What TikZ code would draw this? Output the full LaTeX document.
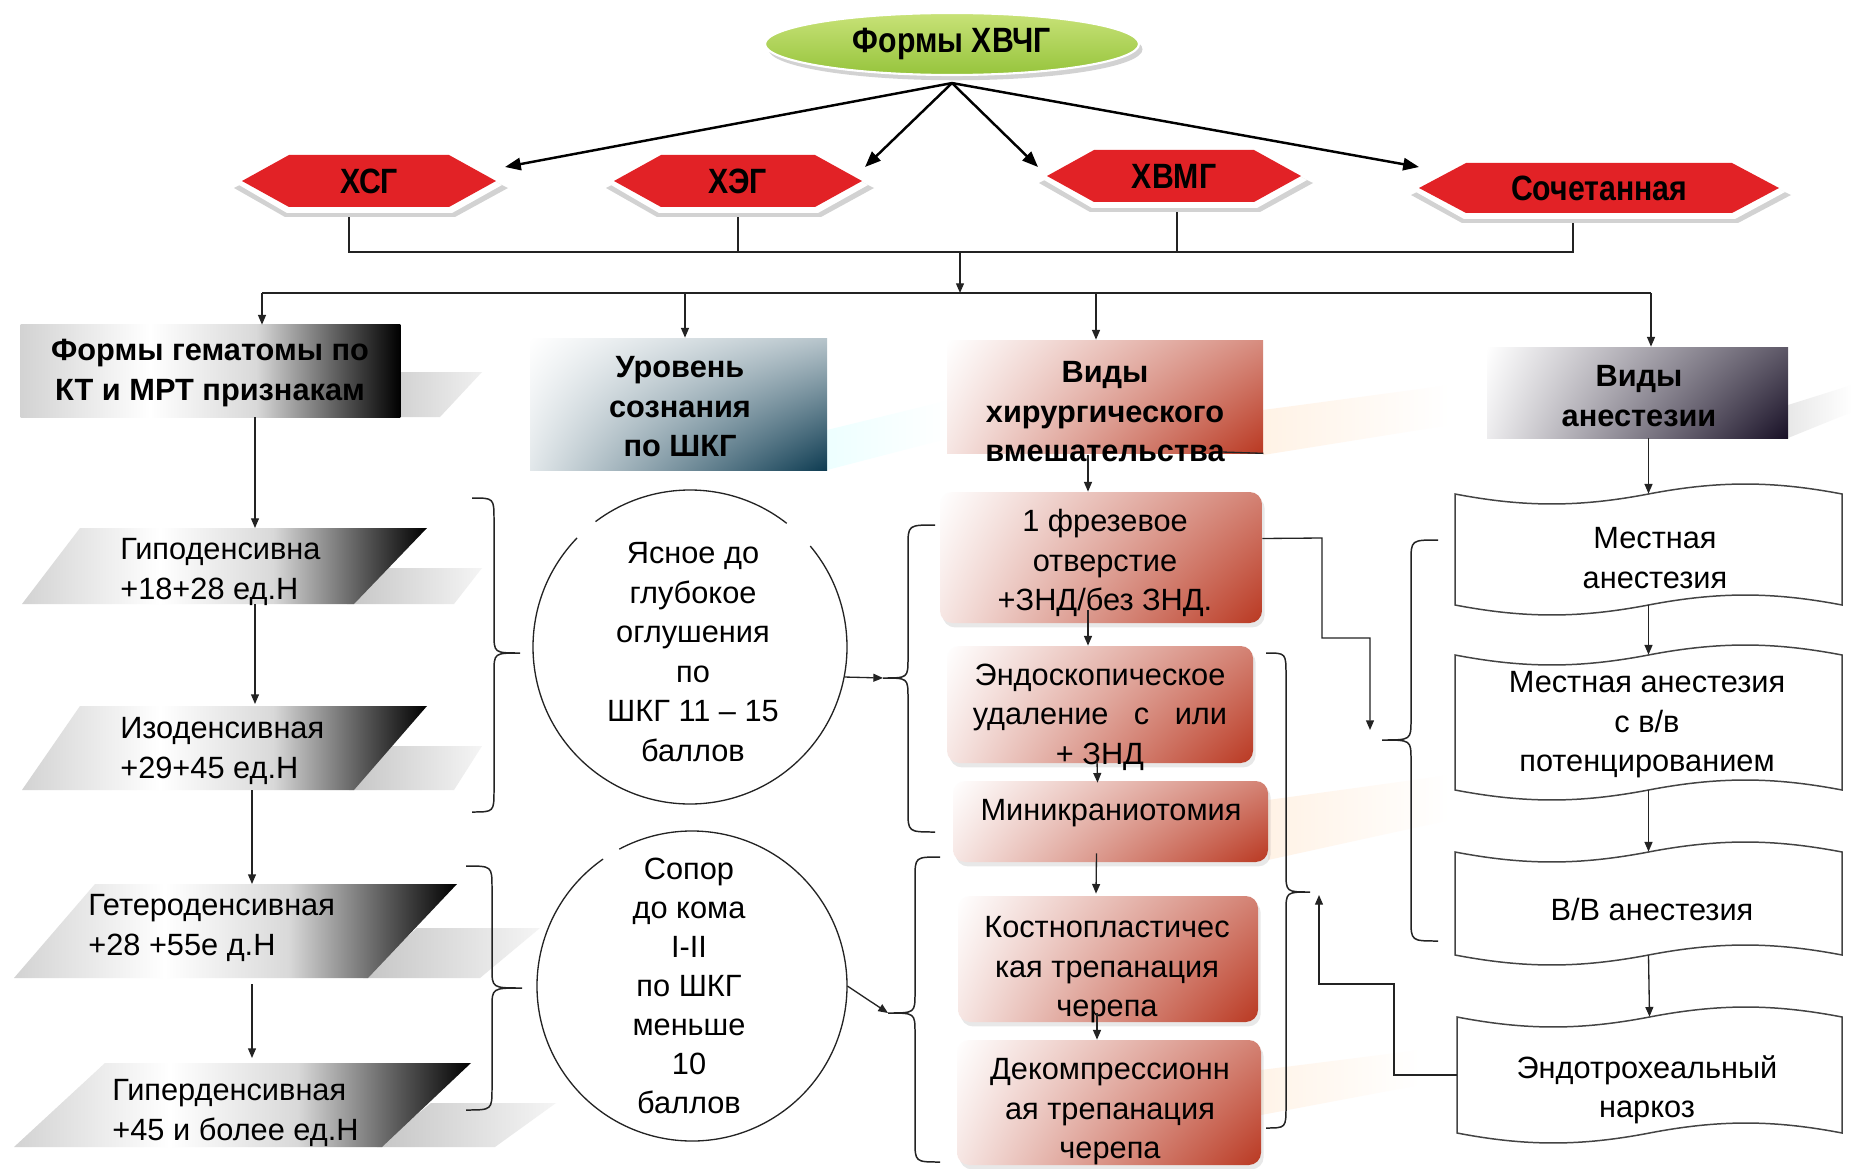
\documentclass[tikz,border=0pt]{standalone}
\usepackage{fontspec}
\setmainfont{Liberation Sans}
\newfontfamily\narrowfont[FakeStretch=0.86]{Liberation Sans}
\usetikzlibrary{shapes.geometric,arrows.meta,shadows,shadings,calc}
\definecolor{hexred}{RGB}{226,34,38}
\definecolor{leafA}{RGB}{200,226,120}
\definecolor{leafB}{RGB}{150,196,60}
\definecolor{surgred}{RGB}{182,46,22}
\definecolor{tealdk}{RGB}{14,60,82}
\definecolor{purpdk}{RGB}{24,16,38}
\definecolor{linec}{RGB}{35,35,35}
\pgfdeclarehorizontalshading{grayblack}{100bp}{color(0bp)=(gray!35); color(25bp)=(gray!35); color(42bp)=(white); color(56bp)=(gray!30); color(67bp)=(gray!70!black); color(75bp)=(black); color(100bp)=(black)}
\newcommand\hexa[5]{%
  \fill[gray!35] (#1-#3-8,#2+7) -- (#1-#3+#5-4,#2-#4+7) -- (#1+#3-#5+6,#2-#4+7) -- (#1+#3+12,#2+7) -- (#1+#3-#5+6,#2+#4+10) -- (#1-#3+#5-4,#2+#4+10) -- cycle;
  \fill[white] (#1-#3-3,#2+4) -- (#1-#3+#5-2,#2-#4+4) -- (#1+#3-#5+3,#2-#4+4) -- (#1+#3+6,#2+4) -- (#1+#3-#5+3,#2+#4+6) -- (#1-#3+#5-2,#2+#4+6) -- cycle;
  \fill[hexred] (#1-#3,#2) -- (#1-#3+#5,#2-#4) -- (#1+#3-#5,#2-#4) -- (#1+#3,#2) -- (#1+#3-#5,#2+#4) -- (#1-#3+#5,#2+#4) -- cycle;
}
\newcommand\brc[6]{%
  \draw[braceline] (#1,#4) .. controls (#2,#4) .. (#2,#4+22) -- (#2,#5-20) .. controls (#2,#5) .. (#3,#5) .. controls (#2,#5) .. (#2,#5+20) -- (#2,#6-22) .. controls (#2,#6) .. (#1,#6);
}
\newcommand\tape[5]{%
  \pgfmathsetmacro\tw{#2-#1}%
  \pgfmathsetmacro\ta{1.33*#5}%
  \draw[tapeline] (#1,#3) .. controls (#1+0.18*\tw,#3+\ta) and (#1+0.32*\tw,#3+\ta) .. (#1+0.5*\tw,#3)
   .. controls (#1+0.68*\tw,#3-\ta) and (#1+0.82*\tw,#3-\ta) .. (#2,#3)
   -- (#2,#4)
   .. controls (#1+0.82*\tw,#4-\ta) and (#1+0.68*\tw,#4-\ta) .. (#1+0.5*\tw,#4)
   .. controls (#1+0.32*\tw,#4+\ta) and (#1+0.18*\tw,#4+\ta) .. (#1,#4) -- cycle;
}
\begin{document}
\begin{tikzpicture}[x=0.02cm,y=-0.02cm,
  txt/.style={font=\fontsize{17.5}{22.5}\selectfont, align=center, inner sep=0pt},
  btxt/.style={font=\bfseries\fontsize{17.5}{22.5}\selectfont, align=center, inner sep=0pt},
  ltxt/.style={font=\fontsize{17.5}{22.5}\selectfont, align=left, inner sep=0pt, anchor=west},
  hextxt/.style={font=\narrowfont\bfseries\fontsize{20}{24}\selectfont, inner sep=0pt},
  conn/.style={draw=linec, line width=0.75pt, -{Triangle[length=5.5pt,width=4.5pt]}},
  plain/.style={draw=linec, line width=0.75pt},
  bigarr/.style={draw=black, line width=1.4pt, -{Triangle[length=9pt,width=7pt]}},
  braceline/.style={draw=linec, line width=0.85pt},
  tapeline/.style={draw=linec!85, line width=0.85pt, fill=white},
  sbox/.style={rectangle, rounded corners=7pt, upper left=white, upper right=surgred!60, lower left=surgred!12, lower right=surgred!95, inner sep=0pt, drop shadow={opacity=0.18, shadow xshift=1.5pt, shadow yshift=-2.5pt}},
  shad/.style={left color=gray!45, right color=gray!8},
  ghost/.style={rectangle, inner sep=0pt, draw=none},
]
\useasboundingbox (0,0) rectangle (1852,1169);
\fill[white] (0,0) rectangle (1852,1169);

% faint background streaks
\shade[left color=cyan!7, right color=white] (827,430) -- (950,400) -- (950,438) -- (827,470) -- cycle;
\shade[left color=orange!10, right color=white] (1263,410) -- (1450,385) -- (1450,425) -- (1263,455) -- cycle;
\shade[left color=orange!10, right color=white] (1268,800) -- (1450,775) -- (1450,820) -- (1268,860) -- cycle;
\shade[left color=orange!9, right color=white] (1261,1070) -- (1420,1050) -- (1420,1085) -- (1261,1115) -- cycle;
\shade[left color=gray!18, right color=white] (1788,438) -- (1788,405) -- (1852,385) -- (1852,412) -- cycle;

% tree lines behind hexagons
\draw[plain] (349,205) -- (349,252) -- (1573,252) -- (1573,210);
\draw[plain] (738,205) -- (738,252);
\draw[plain] (1177,200) -- (1177,252);

% hexagons
\hexa{369}{181}{127}{26}{47}
\hexa{738}{181}{124}{26}{47}
\hexa{1174}{176}{127}{26}{47}
\hexa{1599}{188}{180}{25}{47}
\node[hextxt] (hx1) at (369,181) {ХСГ};
\node[hextxt] (hx2) at (738,181) {ХЭГ};
\node[hextxt] (hx3) at (1174,176) {ХВМГ};
\node[hextxt] (hx4) at (1599,188) {Сочетанная};

% top ellipse
\node[ellipse, minimum width=374*0.02cm, minimum height=62*0.02cm, top color=leafA, bottom color=leafB, draw=white, line width=1.2pt, drop shadow={opacity=0.35, shadow xshift=2pt, shadow yshift=-3pt}, inner sep=0pt, font=\narrowfont\bfseries\fontsize{20}{24}\selectfont] (top) at (952,44) {Формы ХВЧГ};
\coordinate (topout) at ($(top.south)+(0,7)$);
\draw[bigarr] (topout) -- ($(hx1)+(136,-14)$);
\draw[bigarr] (topout) -- ($(hx2)+(127,-14)$);
\draw[bigarr] (topout) -- ($(hx3)+(-136,-9)$);
\draw[bigarr] (topout) -- ($(hx4)+(-180,-21)$);

% header boxes
\node[ghost, minimum width=379*0.02cm, minimum height=92*0.02cm] (h1) at (210.5,371) {};
\shade[left color=gray!40, right color=gray!12] (380,417) -- (440,417) -- (482,372) -- (380,372) -- cycle;
\shade[shading=grayblack] (h1.north west) rectangle (h1.south east);
\node[btxt] (h1t) at (210,373) {Формы гематомы по\\КТ и МРТ признакам};

\node[rectangle, inner sep=0pt, minimum width=297*0.02cm, minimum height=132*0.02cm, upper left=white, upper right=tealdk!30, lower left=tealdk!12, lower right=tealdk] (h2) at (678.5,404) {};
\node[btxt] (h2t) at (680,407) {Уровень\\сознания\\по ШКГ};

\node[rectangle, inner sep=0pt, minimum width=316*0.02cm, minimum height=113*0.02cm, upper left=white, upper right=surgred!55, lower left=surgred!12, lower right=surgred!95] (h3) at (1105,396.5) {};
\node[btxt] (h3t) at (1105,412) {Виды\\хирургического\\вмешательства};
\draw[plain] (1222,452) -- (h3.south east);

\node[rectangle, inner sep=0pt, minimum width=301*0.02cm, minimum height=91*0.02cm, upper left=white, upper right=purpdk!70, lower left=purpdk!8, lower right=purpdk] (h4) at (1637.5,392.5) {};
\node[btxt] (h4t) at (1639,396) {Виды\\анестезии};

% distribution lines
\coordinate (mid) at (960,252);
\coordinate (j1) at (262,293);
\coordinate (j2) at (685,293);
\coordinate (j3) at (1096,293);
\coordinate (j4) at (1651,293);
\draw[conn] (mid) -- (mid |- j1);
\draw[plain] (j1) -- (j4);
\draw[conn] (j1) -- (j1 |- h1.north);
\draw[conn] (j2) -- (j2 |- h2.north);
\draw[conn] (j3) -- (j3 |- h3.north);
\draw[conn] (j4) -- (j4 |- h4.north);

% left column parallelograms
\shade[shad] (347,604) -- (454,604) -- (482,568) -- (387,568) -- cycle;
\shade[shading=grayblack] (22,604) -- (354,604) -- (427,528) -- (80,528) -- cycle;
\shade[shad] (349,790) -- (454,790) -- (482,746) -- (387,746) -- cycle;
\shade[shading=grayblack] (22,790) -- (354,790) -- (427,706) -- (80,706) -- cycle;
\shade[shad] (363,978) -- (480,978) -- (540,928) -- (417,928) -- cycle;
\shade[shading=grayblack] (14,978) -- (368,978) -- (457,884) -- (95,884) -- cycle;
\shade[shad] (377,1147) -- (495,1147) -- (556,1103) -- (431,1103) -- cycle;
\shade[shading=grayblack] (14,1147) -- (382,1147) -- (471,1063) -- (105,1063) -- cycle;
\node[ltxt] (p1) at (120,572) {Гиподенсивна\\+18+28 ед.Н};
\node[ltxt] (p2) at (120,751) {Изоденсивная\\+29+45 ед.Н};
\node[ltxt] (p3) at (88,928) {Гетероденсивная\\+28 +55е д.Н};
\node[ltxt] (p4) at (112,1113) {Гиперденсивная\\+45 и более ед.Н};
\coordinate (p1top) at (255,528);
\coordinate (p1bot) at (255,604);
\coordinate (p2top) at (255,704);
\coordinate (p2bot) at (252,790);
\coordinate (p3top) at (252,884);
\coordinate (p3bot) at (252,984);
\coordinate (p4top) at (252,1058);
\draw[conn] (h1.south -| p1top) -- (p1top);
\draw[conn] (p1bot) -- (p2top);
\draw[conn] (p2bot) -- (p3top);
\draw[conn] (p3bot) -- (p4top);

% braces
\brc{472}{494}{520}{498}{653}{812}
\brc{466}{492}{522}{866}{988}{1110}
\brc{935}{908}{883}{525}{678}{832}
\brc{940}{915}{888}{857}{1013}{1162}
\brc{1266}{1286}{1310}{653}{892}{1128}
\brc{1438}{1411}{1382}{540}{740}{941}

% circles
\node[circle, minimum size=314*0.02cm, inner sep=0pt] (c1) at (690,647) {};
\draw[plain] (c1.center) ++(-52:157) arc[start angle=-52, end angle=-127, radius=157];
\draw[plain] (c1.center) ++(-136:157) arc[start angle=-136, end angle=-400, radius=157];
\node[txt] (c1t) at (693,652) {Ясное до\\глубокое\\оглушения\\по\\ШКГ 11 – 15\\баллов};
\node[circle, minimum size=310*0.02cm, inner sep=0pt] (c2) at (692,986) {};
\draw[plain] (c2.center) ++(-125:155) arc[start angle=-125, end angle=-478, radius=155];
\node[txt, font=\fontsize{17.5}{22.2}\selectfont] (c2t) at (689,986) {Сопор\\до кома\\I-II\\по ШКГ\\меньше\\10\\баллов};
\coordinate (bp3) at (883,678);
\coordinate (bp4) at (888,1013);
\draw[conn] (c1.-11.5) -- (bp3);
\draw[conn] (c2.east) -- (bp4);

% surgical boxes
\node[sbox, minimum width=322*0.02cm, minimum height=131*0.02cm] (s1) at (1101,557.5) {};
\node[sbox, minimum width=306*0.02cm, minimum height=117*0.02cm] (s2) at (1100,704.5) {};
\node[sbox, minimum width=315*0.02cm, minimum height=81*0.02cm] (s3) at (1110.5,821.5) {};
\node[sbox, minimum width=300*0.02cm, minimum height=126*0.02cm] (s4) at (1108,959) {};
\node[sbox, minimum width=304*0.02cm, minimum height=125*0.02cm] (s5) at (1109,1102.5) {};
\node[txt] (s1t) at (1105,563) {1 фрезевое\\отверстие\\+ЗНД/без ЗНД.};
\node[txt] (s2t) at (1100,717) {Эндоскопическое\\удаление\hspace{0.55em} с\hspace{0.55em} или\\+ ЗНД};
\node[txt] (s3t) at (1111,813) {Миникраниотомия};
\node[txt] (s4t) at (1107,970) {Костнопластичес\\кая трепанация\\черепа};
\node[txt] (s5t) at (1110,1112) {Декомпрессионн\\ая трепанация\\черепа};
\draw[conn] ($(h3.south)+(-17,2)$) -- ($(s1.north)+(-13,0)$);
\draw[conn] ($(s1.south)+(-13,-13)$) -- ($(s2.north)+(-12,0)$);
\draw[conn] ($(s2.south)+(-3,-3)$) -- ($(s3.north)+(-13,2)$);
\draw[conn] ($(s3.south)+(-14,-9)$) -- ($(s4.north)+(-12,-2)$);
\draw[conn] ($(s4.south)+(-11,-9)$) -- ($(s5.north)+(-12,0)$);

% anesthesia tapes
\tape{1455}{1842}{494}{605}{10}
\tape{1455}{1842}{655}{790}{10}
\tape{1455}{1842}{852}{955}{10}
\tape{1457}{1842}{1017}{1133}{10}
\node[ghost, minimum width=387*0.02cm, minimum height=111*0.02cm] (a1) at (1648.5,549.5) {};
\node[ghost, minimum width=387*0.02cm, minimum height=135*0.02cm] (a2) at (1648.5,722.5) {};
\node[ghost, minimum width=387*0.02cm, minimum height=103*0.02cm] (a3) at (1648.5,903.5) {};
\node[ghost, minimum width=385*0.02cm, minimum height=116*0.02cm] (a4) at (1649.5,1075) {};
\node[txt] (a1t) at (1655,558) {Местная\\анестезия};
\node[txt] (a2t) at (1647,725) {Местная анестезия\\с в/в\\потенцированием};
\node[txt] (a3t) at (1652,910) {В/В анестезия};
\node[txt] (a4t) at (1647,1090) {Эндотрохеальный\\наркоз};
\draw[conn] (h4.south -| a1.north) -- (a1.north);
\draw[conn] (a1.south) -- (a2.north);
\draw[conn] (a2.south) -- (a3.north);
\draw[conn] (a3.south) -- (a4.north);

% cross connectors
\coordinate (bpA) at (1370,730);
\coordinate (bpS) at (1319,895);
\draw[conn] ($(s1.east)+(0,-19)$) -- (1322,538) -- (1322,638) -- (1370,638) -- (bpA);
\draw[conn] (a4.west) -- (1394,1075) -- (1394,984) -- (1319,984) -- (bpS);
\end{tikzpicture}
\end{document}
